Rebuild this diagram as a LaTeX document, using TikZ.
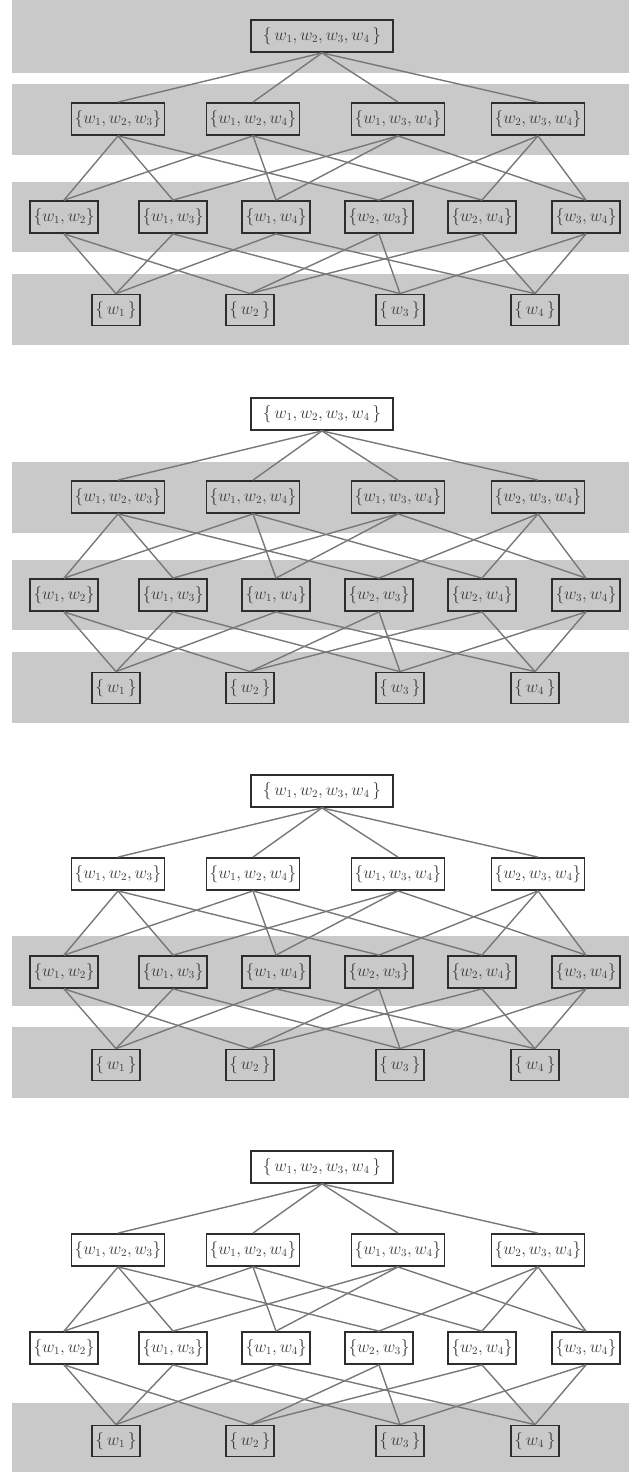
\documentclass[tikz,border=0pt]{standalone}
\definecolor{bandgray}{RGB}{201,201,201}
\definecolor{linegray}{RGB}{120,120,120}
\definecolor{boxgray}{RGB}{45,45,45}
\definecolor{textgray}{RGB}{60,60,60}
\tikzset{
  band/.style={fill=bandgray, draw=none},
  setbox/.style={draw=boxgray, line width=1.8pt, inner sep=0pt, minimum height=32pt,
    text=textgray, font=\fontsize{16}{18}\selectfont},
  link/.style={draw=linegray, line width=1.4pt},
}
\newcommand\lattice[2]{%
  \node[setbox, minimum width=142pt] (#1-1234) at (322,#2) {$\{\,w_1, w_2, w_3, w_4\,\}$};
  \node[setbox, minimum width=93pt] (#1-123) at (118,#2+83) {$\{w_1, w_2, w_3\}$};
  \node[setbox, minimum width=93pt] (#1-124) at (253,#2+83) {$\{w_1, w_2, w_4\}$};
  \node[setbox, minimum width=93pt] (#1-134) at (398,#2+83) {$\{w_1, w_3, w_4\}$};
  \node[setbox, minimum width=93pt] (#1-234) at (538,#2+83) {$\{w_2, w_3, w_4\}$};
  \node[setbox, minimum width=68pt] (#1-12) at (64,#2+181) {$\{w_1, w_2\}$};
  \node[setbox, minimum width=68pt] (#1-13) at (173,#2+181) {$\{w_1, w_3\}$};
  \node[setbox, minimum width=68pt] (#1-14) at (276,#2+181) {$\{w_1, w_4\}$};
  \node[setbox, minimum width=68pt] (#1-23) at (379,#2+181) {$\{w_2, w_3\}$};
  \node[setbox, minimum width=68pt] (#1-24) at (482,#2+181) {$\{w_2, w_4\}$};
  \node[setbox, minimum width=68pt] (#1-34) at (586,#2+181) {$\{w_3, w_4\}$};
  \node[setbox, minimum width=48pt, minimum height=31pt] (#1-1) at (116,#2+274) {$\{\,w_1\,\}$};
  \node[setbox, minimum width=48pt, minimum height=31pt] (#1-2) at (250,#2+274) {$\{\,w_2\,\}$};
  \node[setbox, minimum width=48pt, minimum height=31pt] (#1-3) at (400,#2+274) {$\{\,w_3\,\}$};
  \node[setbox, minimum width=48pt, minimum height=31pt] (#1-4) at (535,#2+274) {$\{\,w_4\,\}$};
  \foreach \a/\b in {1234/123,1234/124,1234/134,1234/234,
      123/12,123/13,123/23, 124/12,124/14,124/24, 134/13,134/14,134/34, 234/23,234/24,234/34,
      12/1,12/2, 13/1,13/3, 14/1,14/4, 23/2,23/3, 24/2,24/4, 34/3,34/4}
    \draw[link] (#1-\a.south) -- (#1-\b.north);
}
\begin{document}
\begin{tikzpicture}[x=1pt,y=-1pt]
\useasboundingbox (0,0) rectangle (643,1472);
% panel 1 bands (T=36)
\fill[band] (12,0) rectangle (629,73);
\fill[band] (12,84) rectangle (629,155);
\fill[band] (12,182) rectangle (629,252);
\fill[band] (12,274) rectangle (629,345);
% panel 2 bands (T=414)
\fill[band] (12,462) rectangle (629,533);
\fill[band] (12,560) rectangle (629,630);
\fill[band] (12,652) rectangle (629,723);
% panel 3 bands (T=791)
\fill[band] (12,936) rectangle (629,1006);
\fill[band] (12,1027) rectangle (629,1098);
% panel 4 band (T=1167)
\fill[band] (12,1403) rectangle (629,1472);
\lattice{p1}{36}
\lattice{p2}{414}
\lattice{p3}{791}
\lattice{p4}{1167}
\end{tikzpicture}
\end{document}
